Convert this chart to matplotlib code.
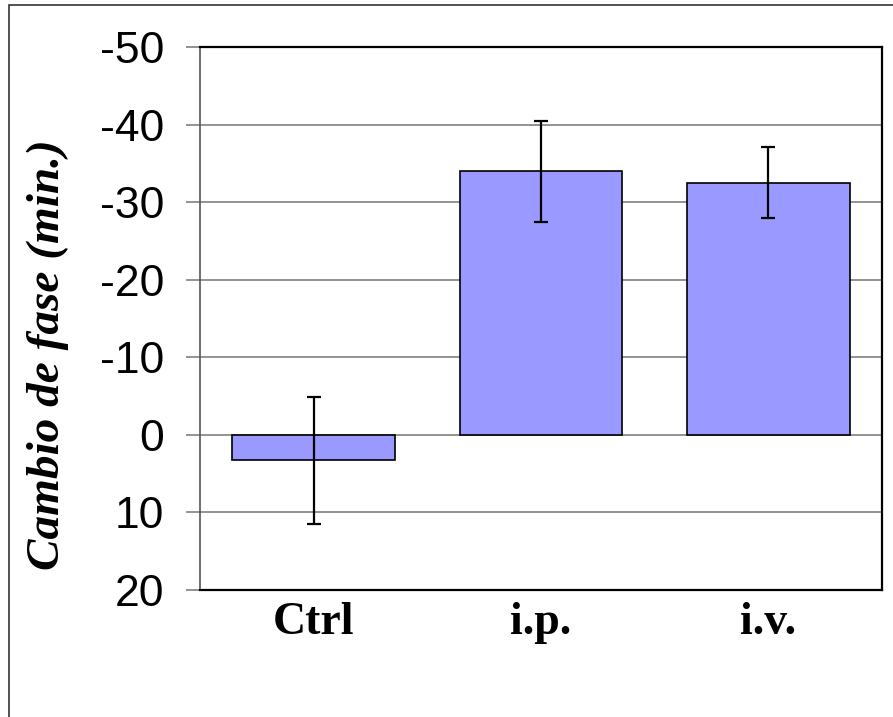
import numpy as np
import matplotlib.pyplot as plt
from matplotlib.patches import Rectangle

groups = ['Ctrl', 'i.p.', 'i.v.']
phase_shift = [3.3, -34.0, -32.5]
phase_err = [8.2, 6.5, 4.6]
yticks = [-50, -40, -30, -20, -10, 0, 10, 20]

fig = plt.figure(figsize=(8.93, 7.17), dpi=100)

# outer chart frame (only left and top edges fall inside the image)
fig.patches.append(Rectangle((9 / 893, -0.1), 1.2, 1 - 5 / 717 + 0.1,
                             transform=fig.transFigure, fill=False,
                             edgecolor='#333333', linewidth=1.2))

ax = fig.add_axes([200 / 893, 1 - 590 / 717, 682 / 893, 543 / 717])

x = np.arange(len(groups))
ax.bar(x, phase_shift, width=0.715, color='#9999FF', edgecolor='black',
       linewidth=1.2, zorder=3)
ax.errorbar(x, phase_shift, yerr=phase_err, fmt='none', ecolor='black',
            elinewidth=1.6, capsize=5, capthick=1.6, zorder=4)

ax.set_xlim(-0.5, 2.5)
ax.set_ylim(20, -50)
ax.set_yticks(yticks)
ax.set_yticklabels([str(t) for t in yticks], family='Liberation Sans',
                   fontsize=32)
ax.set_xticks(x)
ax.set_xticklabels(groups, family='Liberation Serif', fontweight='bold',
                   fontsize=33)
ax.tick_params(axis='y', length=10, width=1.2, color='#808080', pad=16)
ax.tick_params(axis='x', length=0, pad=9)

ax.yaxis.grid(True, color='#808080', linewidth=1.2, zorder=0)
ax.set_axisbelow(True)
for side in ['top', 'right', 'bottom']:
    ax.spines[side].set_color('black')
    ax.spines[side].set_linewidth(1.6)
ax.spines['left'].set_color('#555555')
ax.spines['left'].set_linewidth(1.2)

fig.text(48 / 893, 1 - 355 / 717, 'Cambio de fase (min.)', rotation=90,
         ha='center', va='center', family='Liberation Serif',
         fontweight='bold', fontstyle='italic', fontsize=34)

fig.savefig('out.png', dpi=100)
